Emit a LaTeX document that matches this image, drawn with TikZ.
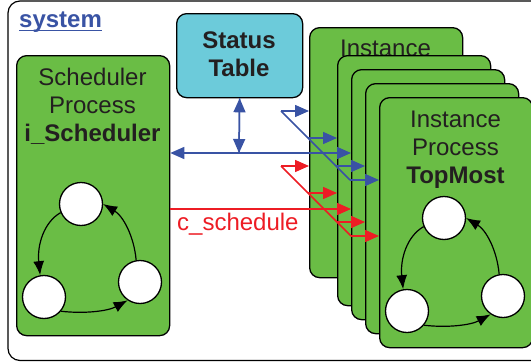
\documentclass[tikz,border=0pt]{standalone}
\usepackage{fontspec}
\setmainfont{Liberation Sans}
\usetikzlibrary{arrows.meta}
\definecolor{pgreen}{HTML}{6ABD45}
\definecolor{pcyan}{HTML}{6CCBDA}
\definecolor{pblue}{HTML}{3953A4}
\definecolor{pred}{HTML}{ED1C24}
\definecolor{txt}{HTML}{231F20}
\tikzset{
  procbox/.style={draw=black, line width=1.3pt, fill=pgreen, rounded corners=10pt,
    anchor=north west, minimum width=153pt, minimum height=250pt, inner sep=0pt},
  tablebox/.style={draw=black, line width=1.3pt, fill=pcyan, rounded corners=10pt,
    anchor=north west, minimum width=126pt, minimum height=84pt, inner sep=0pt},
  lbl/.style={font=\fontsize{24}{28}\selectfont, text=txt, inner sep=0pt, anchor=base},
  blbl/.style={lbl, font=\fontsize{24}{28}\selectfont\bfseries},
  st/.style={draw=black, line width=1.3pt, fill=white, circle, minimum size=43pt, inner sep=0pt},
  tr/.style={draw=black, line width=1.2pt, -{Latex[length=14pt,width=11pt]}},
  bsig/.style={draw=pblue, line width=1.5pt},
  rsig/.style={draw=pred, line width=1.5pt},
  tip/.style={-{Triangle[length=14pt,width=12pt]}},
}
\newcommand\cycledia[3]{%
  \node[st] (#1t) at (81+#2,204+#3) {};
  \node[st] (#1l) at (44+#2,297+#3) {};
  \node[st] (#1r) at (140+#2,282+#3) {};
  \draw[tr] (#1t.203) .. controls (44+#2,222+#3) and (37+#2,245+#3) .. (#1l.100);
  \draw[tr] (#1l.320) .. controls (85+#2,314+#3) and (108+#2,311+#3) .. (#1r.236);
  \draw[tr] (#1r.100) .. controls (134+#2,236+#3) and (123+#2,216+#3) .. (#1t.0);
}
\begin{document}
\begin{tikzpicture}[x=1pt,y=-1pt]
\useasboundingbox (0,0) rectangle (531,362);
\clip (0,0) rectangle (531,362);
% system frame
\draw[black, line width=1.2pt, rounded corners=12pt] (8,1) rectangle (545,360.5);
\node[font=\fontsize{24}{28}\selectfont\bfseries, text=pblue, inner sep=0pt, anchor=base west]
  (sys) at (19,27) {system};
\draw[pblue, line width=1.8pt] (sys.base west) ++(0,3.5) -- ++(83,0);
% scheduler
\node[procbox, minimum height=280pt] (sched) at (16,55) {};
\node[lbl] (s1) at (92.5,85) {Scheduler};
\node[lbl] (s2) at (92.5,113) {Process};
\node[blbl] (s3) at (92.5,141) {i\_Scheduler};
\cycledia{a}{0}{0}
% status table
\node[tablebox] (status) at (176,13) {};
\node[blbl] (t1) at (239,48) {Status};
\node[blbl] (t2) at (239,76) {Table};
% instances
\node[procbox] (i1) at (309,27) {};
\node[lbl] (i1a) at (385.5,56) {Instance};
\foreach \n/\x/\y in {2/337/55, 3/351/69, 4/365/83} {
  \node[procbox] (i\n) at (\x,\y) {};
}
\node[procbox] (i5) at (379,97) {};
\node[lbl] (i5a) at (455.5,127) {Instance};
\node[lbl] (i5b) at (455.5,155) {Process};
\node[blbl] (i5c) at (455.5,183) {TopMost};
\cycledia{b}{363}{14}
% blue signals
\coordinate (bj) at (239,153);
\coordinate (bf) at (281,111);
\coordinate (bd2) at (308,138);
\coordinate (bd4) at (336,166);
\coordinate (bd5) at (350,180);
\draw[bsig, tip] (status.south) -- (bj);
\draw[bsig, tip] (bj) -- (status.south);
\draw[bsig, tip] (bj) -- (sched.east |- bj);
\draw[bsig, tip] (bj) -- (i3.west |- bj);
\draw[bsig] (bf) -- (bd5);
\draw[bsig, tip] (bf) -- (i1.west |- bf);
\draw[bsig, tip] (bd2) -- (i2.west |- bd2);
\draw[bsig, tip] (bd4) -- (i4.west |- bd4);
\draw[bsig, tip] (bd5) -- (i5.west |- bd5);
% red signals
\coordinate (rj) at (169,209);
\coordinate (rf) at (281,166);
\coordinate (rd2) at (308,193);
\coordinate (rd4) at (337,222);
\coordinate (rd5) at (351,236);
\draw[rsig, tip] (sched.east |- rj) -- (i3.west |- rj);
\draw[rsig] (rf) -- (rd5);
\draw[rsig, tip] (rf) -- (i1.west |- rf);
\draw[rsig, tip] (rd2) -- (i2.west |- rd2);
\draw[rsig, tip] (rd4) -- (i4.west |- rd4);
\draw[rsig, tip] (rd5) -- (i5.west |- rd5);
\node[font=\fontsize{24}{28}\selectfont, text=pred, inner sep=0pt, anchor=base west]
  (cs) at (177,230) {c\_schedule};
\end{tikzpicture}
\end{document}
